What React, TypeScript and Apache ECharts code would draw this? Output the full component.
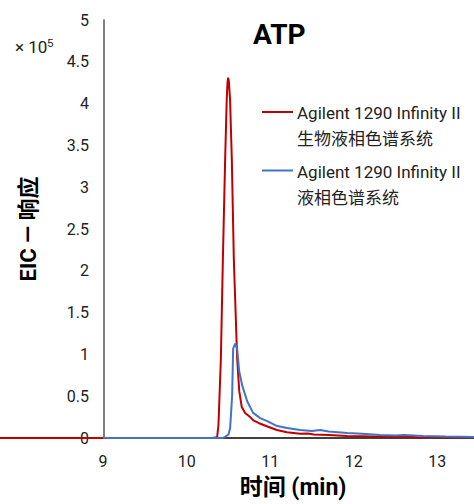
import React, { useEffect, useRef } from "react";
import * as echarts from "echarts";

const title = "ATP";
const xAxisName = "时间 (min)";
const yAxisName = "EIC — 响应";
const xTicks = [9, 10, 11, 12, 13];
const yTicks = [0, 0.5, 1, 1.5, 2, 2.5, 3, 3.5, 4, 4.5, 5];
const seriesNames = [
  "Agilent 1290 Infinity II\n生物液相色谱系统",
  "Agilent 1290 Infinity II\n液相色谱系统",
];

// retention time (min), EIC response (x 10^5)
const bioLC: [number, number][] = [
  [7.766, 0], [9.0, 0], [10.3, 0], [10.365, 0.01], [10.381, 0.155], [10.41, 0.95],
  [10.434, 2.14], [10.461, 3.33], [10.48, 4.05], [10.49, 4.26], [10.497, 4.31],
  [10.505, 4.27], [10.52, 4.05], [10.541, 3.33], [10.565, 2.14], [10.605, 0.95],
  [10.63, 0.56], [10.66, 0.37], [10.70, 0.30], [10.76, 0.25], [10.80, 0.21],
  [10.86, 0.18], [10.96, 0.14], [11.08, 0.095], [11.2, 0.07], [11.36, 0.05],
  [11.45, 0.055], [11.52, 0.042], [11.7, 0.035], [11.92, 0.024], [12.1, 0.02],
  [12.32, 0.015], [12.5, 0.013], [12.71, 0.012], [12.8, 0.005], [12.9, 0.014],
  [13.0, 0.01], [13.44, 0.008],
];
const standardLC: [number, number][] = [
  [9.0, 0], [10.3, 0], [10.437, 0.0], [10.50, 0.04], [10.521, 0.12], [10.545, 0.51],
  [10.557, 1.07], [10.581, 1.13], [10.605, 1.07], [10.629, 0.80], [10.665, 0.63],
  [10.725, 0.44], [10.796, 0.30], [10.88, 0.238], [10.964, 0.202], [11.084, 0.143],
  [11.204, 0.119], [11.359, 0.095], [11.5, 0.085], [11.6, 0.095], [11.7, 0.078],
  [11.922, 0.06], [12.1, 0.05], [12.317, 0.036], [12.5, 0.03], [12.6, 0.036],
  [12.832, 0.024], [13.1, 0.018], [13.443, 0.012],
];
const colors = ["#c00000", "#4472c4"];

const FONT = "Roboto, 'Noto Sans CJK SC', sans-serif";

export default function App() {
  const ref = useRef<HTMLDivElement>(null);
  useEffect(() => {
    if (!ref.current) return;
    const chart = echarts.init(ref.current, undefined, { renderer: "svg" });
    const legendItems: any[] = [];
    seriesNames.forEach((name, i) => {
      const y = 112 + i * 58.5;
      legendItems.push({
        type: "line",
        shape: { x1: 262, y1: y, x2: 293, y2: y },
        style: { stroke: colors[i], lineWidth: 2 },
      });
      legendItems.push({
        type: "text",
        x: 297,
        y: y - 12,
        style: {
          text: name,
          fontSize: 17,
          fontFamily: FONT,
          fill: "#222",
          lineHeight: 26,
          verticalAlign: "top",
        },
      });
    });
    chart.setOption({
      animation: false,
      textStyle: { fontFamily: FONT },
      title: {
        text: title,
        left: 248,
        top: 15,
        textStyle: { fontSize: 28, fontWeight: "bold", color: "#000", fontFamily: FONT },
      },
      grid: { left: 0, right: 0, top: 20, bottom: 64 },
      xAxis: {
        type: "value",
        min: 7.766,
        max: 13.44,
        name: xAxisName,
        nameLocation: "middle",
        nameGap: 38,
        nameTextStyle: {
          fontSize: 23,
          fontWeight: "bold",
          color: "#000",
          padding: [0, 0, 0, 112],
        },
        axisLine: { lineStyle: { color: "#000", width: 1.5 } },
        axisTick: { show: false },
        splitLine: { show: false },
        axisLabel: {
          fontSize: 16,
          color: "#222",
          margin: 15,
          customValues: xTicks,
        },
      },
      yAxis: {
        type: "value",
        min: yTicks[0],
        max: yTicks[yTicks.length - 1],
        interval: 0.5,
        offset: -104,
        name: yAxisName,
        nameLocation: "middle",
        nameGap: 65,
        nameRotate: 90,
        nameTextStyle: { fontSize: 22, fontWeight: "bold", color: "#000" },
        axisLine: { show: true, lineStyle: { color: "#555", width: 1.5 } },
        axisTick: { show: false },
        splitLine: { show: false },
        axisLabel: { fontSize: 16, color: "#222", margin: 15 },
      },
      graphic: [
        {
          type: "text",
          x: 15,
          y: 37,
          style: {
            text: "× 10{s|5}",
            fontSize: 17,
            fontFamily: FONT,
            fill: "#222",
            rich: { s: { fontSize: 11, verticalAlign: "top", padding: [0, 0, 8, 0] } },
          } as any,
        },
        ...legendItems,
      ],
      series: [
        {
          name: seriesNames[0],
          type: "line",
          data: bioLC,
          showSymbol: false,
          lineStyle: { color: colors[0], width: 2 },
          itemStyle: { color: colors[0] },
          z: 3,
        },
        {
          name: seriesNames[1],
          type: "line",
          data: standardLC,
          showSymbol: false,
          lineStyle: { color: colors[1], width: 2 },
          itemStyle: { color: colors[1] },
          z: 4,
        },
      ],
    });
    return () => chart.dispose();
  }, []);
  return <div ref={ref} style={{ width: 474, height: 504, position: "absolute", left: 0, top: 0 }} />;
}
